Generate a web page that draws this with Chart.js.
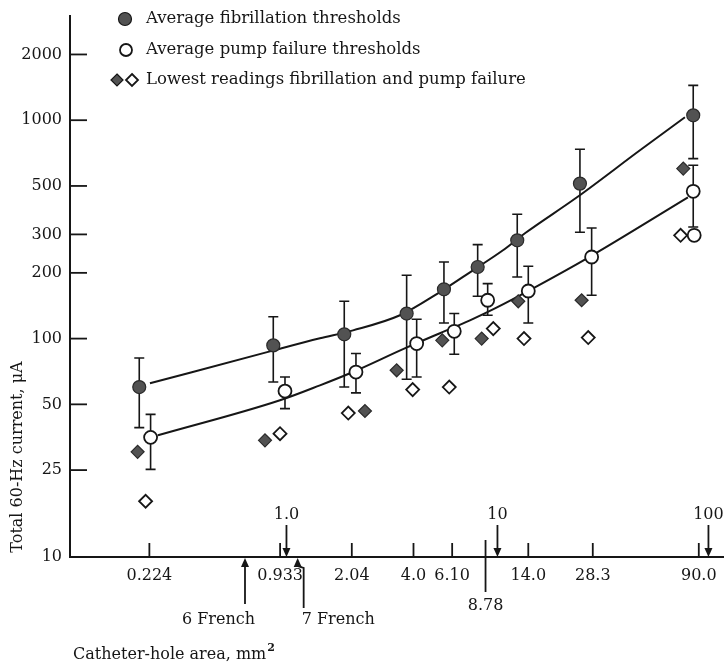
<!DOCTYPE html>
<html><head><meta charset="utf-8">
<script src="https://cdn.jsdelivr.net/npm/chart.js@4/dist/chart.umd.min.js"></script>
<style>html,body{margin:0;padding:0;background:#fff}</style>
</head><body>
<canvas id="c" width="724" height="668"></canvas>
<script>
// ---- data ----
const yTickValues = [10, 25, 50, 100, 200, 300, 500, 1000, 2000];
const xTickValues = [0.224, 0.933, 2.04, 4.0, 6.10, 14.0, 28.3, 90.0];
const xTickLabels = ['0.224', '0.933', '2.04', '4.0', '6.10', '14.0', '28.3', '90.0'];
const arrowMarkValues = [1, 10, 100];
const arrowMarkLabels = ['1.0', '10', '100'];
const lineMarkValue = 8.78;
const lineMarkLabel = '8.78';
const frenchValues = [0.636, 1.13];
const frenchLabels = ['6 French', '7 French'];

const fibX  = [0.2006, 0.866, 1.879, 3.712, 5.577, 8.058, 12.41, 24.6, 84.7];
const fibY  = [60.0, 93.1, 104.6, 130.2, 168.2, 212.7, 281.9, 512.5, 1053];
const fibHi = [81.5, 126, 148.2, 194.9, 224.2, 269.4, 370.9, 736, 1444];
const fibLo = [39.1, 63.3, 60.0, 65.1, 117.9, 156.2, 191.4, 306.7, 667];

const pumpX  = [0.227, 0.984, 2.135, 4.141, 6.242, 8.987, 14.0, 27.95, 84.7];
const pumpY  = [35.3, 57.5, 70.3, 94.9, 108.0, 149.8, 165.2, 236.4, 472.6];
const pumpHi = [45.0, 66.7, 85.4, 122.6, 130.2, 178.6, 214.3, 320.9, 621.6];
const pumpLo = [25.2, 47.8, 56.4, 66.7, 84.8, 127.9, 117.9, 157.9, 324.3];

const lowFibX  = [0.197, 0.791, 2.355, 3.329, 5.475, 8.417, 12.55, 25.06, 75.97];
const lowFibY  = [30.3, 34.2, 46.6, 71.6, 98.2, 100, 148.2, 149.8, 600.5];
const lowPumpX = [0.215, 0.932, 1.963, 3.964, 5.909, 9.553, 13.36, 26.93, 73.8, 85.6];
const lowPumpY = [18.0, 36.7, 45.6, 58.4, 60.0, 111.1, 100, 101.1, 297.2, 297.2];

const fibCurveX  = [0.2254, 0.835, 1.441, 2.067, 3.451, 5.224, 7.653, 10.62, 13.5, 23.82, 47.36, 77.37];
const fibCurveY  = [62.4, 87.4, 100.3, 109.1, 127.9, 161.2, 205.4, 253.7, 303.5, 443.6, 728.3, 1031];
const pumpCurveX = [0.246, 0.932, 1.441, 2.0, 3.725, 5.341, 7.406, 9.732, 15.05, 26.57, 79.94];
const pumpCurveY = [36.07, 52.2, 61.1, 69.4, 91.2, 105.8, 121.3, 137.6, 171.8, 233.2, 443.6];

const legendLabels = ['Average fibrillation thresholds', 'Average pump failure thresholds', 'Lowest readings fibrillation and pump failure'];
const yTitle = 'Total 60-Hz current, \u03bcA';
const xTitle = 'Catheter-hole area, mm';

// ---- styling ----
const INK = '#161616';
const FILL_DARK = '#525252';
const SERIF = '"DejaVu Serif", "Liberation Serif", serif';

const pts = (xs, ys) => xs.map((x, i) => ({x: x, y: ys[i]}));

const errorBarPlugin = {
  id: 'errorBars',
  beforeDatasetsDraw(chart) {
    const {ctx, scales: {x, y}} = chart;
    ctx.save();
    ctx.strokeStyle = INK;
    ctx.lineWidth = 1.6;
    const sets = [[fibX, fibHi, fibLo], [pumpX, pumpHi, pumpLo]];
    sets.forEach(([xs, hi, lo]) => {
      xs.forEach((xv, i) => {
        const px = x.getPixelForValue(xv);
        const pt = y.getPixelForValue(hi[i]);
        const pb = y.getPixelForValue(lo[i]);
        ctx.beginPath();
        ctx.moveTo(px, pt); ctx.lineTo(px, pb);
        ctx.moveTo(px - 5, pt); ctx.lineTo(px + 5, pt);
        ctx.moveTo(px - 5, pb); ctx.lineTo(px + 5, pb);
        ctx.stroke();
      });
    });
    ctx.restore();
  }
};

function arrowHead(ctx, x, y, dir) {
  // dir: 1 = pointing down, -1 = pointing up; tip at (x,y)
  ctx.beginPath();
  ctx.moveTo(x, y);
  ctx.lineTo(x - 4, y - dir * 9);
  ctx.lineTo(x + 4, y - dir * 9);
  ctx.closePath();
  ctx.fill();
}

const decorPlugin = {
  id: 'decor',
  afterDraw(chart) {
    const {ctx, scales: {x, y}, chartArea} = chart;
    const axisY = chartArea.bottom;
    const axisX = chartArea.left;
    ctx.save();
    ctx.strokeStyle = INK;
    ctx.fillStyle = INK;
    ctx.lineWidth = 1.8;
    // inward y ticks
    yTickValues.forEach(v => {
      const py = y.getPixelForValue(v);
      ctx.beginPath(); ctx.moveTo(axisX, py); ctx.lineTo(axisX + 17, py); ctx.stroke();
    });
    // upward x ticks
    xTickValues.forEach(v => {
      const px = x.getPixelForValue(v);
      ctx.beginPath(); ctx.moveTo(px, axisY); ctx.lineTo(px, axisY - 14); ctx.stroke();
    });
    // 8.78 mark crossing the axis
    const p878 = x.getPixelForValue(lineMarkValue);
    ctx.beginPath(); ctx.moveTo(p878, axisY - 17); ctx.lineTo(p878, axisY + 35); ctx.stroke();
    ctx.font = '16px ' + SERIF;
    ctx.textAlign = 'center';
    ctx.textBaseline = 'middle';
    ctx.fillText(lineMarkLabel, p878, axisY + 49);
    // arrows from above
    arrowMarkValues.forEach((v, i) => {
      const px = x.getPixelForValue(v);
      ctx.beginPath(); ctx.moveTo(px, axisY - 32); ctx.lineTo(px, axisY - 6); ctx.stroke();
      arrowHead(ctx, px, axisY, 1);
      ctx.fillText(arrowMarkLabels[i], px, axisY - 42);
    });
    // French arrows from below
    const p6 = x.getPixelForValue(frenchValues[0]);
    arrowHead(ctx, p6, axisY + 1, -1);
    ctx.beginPath(); ctx.moveTo(p6, axisY + 6); ctx.lineTo(p6, axisY + 47); ctx.stroke();
    ctx.textAlign = 'right';
    ctx.fillText(frenchLabels[0], p6 + 10, axisY + 63);
    const p7 = x.getPixelForValue(frenchValues[1]);
    arrowHead(ctx, p7, axisY + 1, -1);
    ctx.beginPath(); ctx.moveTo(p7, axisY + 6); ctx.lineTo(p7, axisY + 9); ctx.lineTo(p7 + 6, axisY + 11); ctx.lineTo(p7 + 6, axisY + 51); ctx.stroke();
    ctx.textAlign = 'left';
    ctx.fillText(frenchLabels[1], p7 + 4, axisY + 63);

    // axis titles
    ctx.font = '16px ' + SERIF;
    ctx.textAlign = 'left';
    ctx.fillText(xTitle, axisX + 3, 655);
    const w = ctx.measureText(xTitle).width;
    ctx.font = 'bold 11px ' + SERIF;
    ctx.fillText('2', axisX + 4 + w, 648);
    ctx.save();
    ctx.translate(18, 457);
    ctx.rotate(-Math.PI / 2);
    ctx.font = '16px ' + SERIF;
    ctx.textAlign = 'center';
    ctx.fillText(yTitle, 0, 0);
    ctx.restore();

    // legend
    const ds = chart.data.datasets;
    const rows = [19, 50, 80];
    ctx.font = '16.5px ' + SERIF;
    ctx.textAlign = 'left';
    ctx.textBaseline = 'middle';
    legendLabels.forEach((t, i) => ctx.fillText(t, 146, rows[i]));
    const circ = (cx, cy, r, fill, lw) => {
      ctx.beginPath(); ctx.arc(cx, cy, r, 0, Math.PI * 2);
      ctx.fillStyle = fill; ctx.fill(); ctx.lineWidth = lw; ctx.strokeStyle = INK; ctx.stroke();
    };
    const diam = (cx, cy, r, fill, lw) => {
      ctx.beginPath(); ctx.moveTo(cx, cy - r); ctx.lineTo(cx + r, cy); ctx.lineTo(cx, cy + r); ctx.lineTo(cx - r, cy); ctx.closePath();
      ctx.fillStyle = fill; ctx.fill(); ctx.lineWidth = lw; ctx.strokeStyle = INK; ctx.stroke();
    };
    circ(125, rows[0], 6.5, ds[2].backgroundColor, 1.2);
    circ(126, rows[1], 6, ds[3].backgroundColor, 1.8);
    diam(117, rows[2], 6, ds[4].backgroundColor, 1.2);
    diam(132, rows[2], 6, '#ffffff', 1.8);
    ctx.restore();
  }
};

const lowPumpStyles = lowPumpX.map((_, i) => i === lowPumpX.length - 1 ? 'circle' : 'rectRot');

new Chart(document.getElementById('c'), {
  type: 'scatter',
  data: {
    datasets: [
      {label: 'fib fit', type: 'line', data: pts(fibCurveX, fibCurveY), borderColor: INK, borderWidth: 2,
       pointRadius: 0, cubicInterpolationMode: 'monotone', fill: false, order: 10},
      {label: 'pump fit', type: 'line', data: pts(pumpCurveX, pumpCurveY), borderColor: INK, borderWidth: 2,
       pointRadius: 0, cubicInterpolationMode: 'monotone', fill: false, order: 10},
      {label: legendLabels[0], data: pts(fibX, fibY), pointStyle: 'circle', pointRadius: 6.5,
       backgroundColor: FILL_DARK, borderColor: '#2a2a2a', borderWidth: 1.2, order: 1},
      {label: legendLabels[1], data: pts(pumpX, pumpY), pointStyle: 'circle', pointRadius: 6.5,
       backgroundColor: '#ffffff', borderColor: INK, borderWidth: 1.8, order: 1},
      {label: 'Lowest fibrillation', data: pts(lowFibX, lowFibY), pointStyle: 'rectRot', pointRadius: 6.5,
       backgroundColor: FILL_DARK, borderColor: '#2a2a2a', borderWidth: 1.2, order: 1},
      {label: 'Lowest pump failure', data: pts(lowPumpX, lowPumpY), pointStyle: lowPumpStyles, pointRadius: 6.5,
       backgroundColor: '#ffffff', borderColor: INK, borderWidth: 1.8, order: 1}
    ]
  },
  options: {
    responsive: false,
    animation: false,
    devicePixelRatio: 1,
    layout: {autoPadding: false, padding: {top: 16, right: 0, left: 0, bottom: 0}},
    plugins: {legend: {display: false}, tooltip: {enabled: false}},
    scales: {
      x: {
        type: 'logarithmic', min: 0.0942, max: 118.5,
        afterBuildTicks: s => { s.ticks = xTickValues.map(v => ({value: v})); },
        afterFit: s => { s.height = 111; s.paddingLeft = 0; s.paddingRight = 0; },
        grid: {display: false, drawTicks: false},
        border: {display: true, color: INK, width: 2},
        ticks: {
          autoSkip: false, maxRotation: 0, minRotation: 0, padding: 9, color: INK,
          font: {family: SERIF, size: 16},
          callback: (v) => { const i = xTickValues.indexOf(v); return i >= 0 ? xTickLabels[i] : ''; }
        }
      },
      y: {
        type: 'logarithmic', min: 10, max: 3000,
        afterBuildTicks: s => { s.ticks = yTickValues.map(v => ({value: v})); },
        afterFit: s => { s.width = 70; s.paddingTop = 0; s.paddingBottom = 0; },
        grid: {display: false, drawTicks: false},
        border: {display: true, color: INK, width: 2},
        ticks: {
          autoSkip: false, padding: 8, color: INK,
          font: {family: SERIF, size: 16},
          callback: (v) => String(v)
        }
      }
    }
  },
  plugins: [errorBarPlugin, decorPlugin]
});
</script>
</body></html>
